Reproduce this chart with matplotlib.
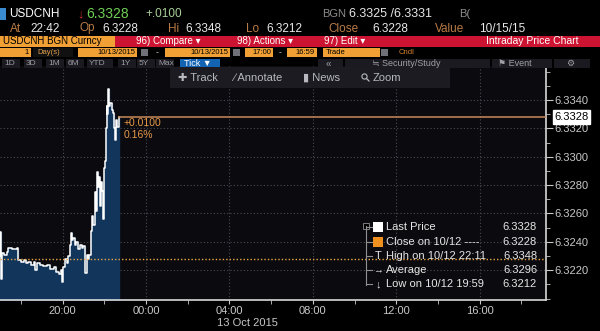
import pandas as pd
import numpy as np
import matplotlib
matplotlib.use('Agg')
import matplotlib.pyplot as plt
import matplotlib.dates as mdates
from matplotlib.patches import Rectangle, Circle

plt.rcParams['font.family'] = ['Liberation Sans', 'DejaVu Sans']

# datos intradía USDCNH 12/10/2015
horas = ['17:00', '17:01', '17:02', '17:05', '17:12', '17:20', '17:24', '17:35', '17:48', '17:52',
         '18:00', '18:08', '18:15', '18:22', '18:30', '18:38', '18:42', '18:46', '18:55', '19:05',
         '19:15', '19:25', '19:35', '19:42', '19:50', '19:55', '19:59', '20:02', '20:06', '20:12',
         '20:16', '20:20', '20:23', '20:27', '20:31', '20:35', '20:40', '20:45', '20:50', '20:55',
         '21:00', '21:04', '21:06', '21:09', '21:13', '21:17', '21:21', '21:25', '21:28', '21:32',
         '21:35', '21:38', '21:41', '21:44', '21:47', '21:50', '21:53', '21:56', '21:58', '22:01',
         '22:04', '22:07', '22:09', '22:11', '22:13', '22:17', '22:21', '22:25', '22:28', '22:31',
         '22:34', '22:38', '22:42']
precios = [6.3230, 6.3247, 6.3214, 6.3232, 6.3231, 6.3233, 6.3236, 6.3235, 6.3236, 6.3227,
           6.3226, 6.3227, 6.3225, 6.3226, 6.3224, 6.3226, 6.3220, 6.3225, 6.3224, 6.3223,
           6.3224, 6.3221, 6.3222, 6.3219, 6.3217, 6.3220, 6.3212, 6.3222, 6.3228, 6.3225,
           6.3230, 6.3238, 6.3246, 6.3241, 6.3243, 6.3238, 6.3240, 6.3235, 6.3238, 6.3236,
           6.3237, 6.3226, 6.3218, 6.3231, 6.3228, 6.3231, 6.3248, 6.3258, 6.3252, 6.3275,
           6.3262, 6.3289, 6.3279, 6.3286, 6.3265, 6.3282, 6.3276, 6.3256, 6.3292, 6.3297,
           6.3320, 6.3336, 6.3330, 6.3348, 6.3336, 6.3338, 6.3333, 6.3331, 6.3320, 6.3312,
           6.3326, 6.3321, 6.3328]

ultimo = 6.3328
cierre = 6.3228
maximo = 6.3348
minimo = 6.3212
promedio = 6.3296
y_ticks = [6.3220, 6.3240, 6.3260, 6.3280, 6.3300, 6.3320, 6.3340]

tiempos = pd.to_datetime(['2015-10-12 ' + h for h in horas])

fondo = '#0b0a0f'
naranja = '#f0a035'
gris = '#c8c8c8'

fig = plt.figure(figsize=(6, 3.31), dpi=100)
fig.patch.set_facecolor('black')

# ---- area del grafico
ax = fig.add_axes([0, 31/331, 546/600, 234/331])
ax.set_facecolor(fondo)
y0 = 6.31990
ax.fill_between(tiempos, precios, y0, step='post', color='#12355c', zorder=2)
ax.plot(tiempos, precios, drawstyle='steps-post', color='white', lw=1.1, zorder=3)

x_ini = pd.Timestamp('2015-10-12 17:00')
x_fin = pd.Timestamp('2015-10-13 19:11')
ax.set_xlim(x_ini, x_fin)
ax.set_ylim(y0, 6.3364)

# linea de cierre punteada y ultimo precio
ax.axhline(cierre, color='#eaa845', lw=1.0, ls=(0, (1, 1.5)), zorder=4)
ax.plot([tiempos[-1], x_fin], [ultimo, ultimo], color='#c98a5a', lw=1.1, zorder=4)
ax.text(tiempos[-1] + pd.Timedelta(minutes=14), ultimo - 0.00007, '+0.0100\n0.16%',
        color='#e8994a', fontsize=7.5, va='top', ha='left', linespacing=1.3, zorder=5)

ax.xaxis.set_major_locator(mdates.HourLocator(byhour=[0, 4, 8, 12, 16, 20]))
ax.xaxis.set_minor_locator(mdates.HourLocator(byhour=range(0, 24, 2)))
ax.xaxis.set_major_formatter(mdates.DateFormatter('%H:%M'))
ax.set_yticks(y_ticks)
ax.set_yticks(np.arange(6.3200, 6.3365, 0.001), minor=True)
ax.yaxis.set_major_formatter(plt.FormatStrFormatter('%.4f'))
ax.yaxis.tick_right()
ax.tick_params(axis='both', which='both', colors=gris, labelsize=8, direction='out')
ax.tick_params(axis='y', which='major', length=5, pad=1)
ax.tick_params(axis='y', which='minor', length=3)
ax.tick_params(axis='x', which='major', length=3, pad=1)
ax.tick_params(axis='x', which='minor', length=3)
ax.grid(True, which='major', color='#4a4a52', lw=0.8, ls=(0, (1, 2)))
for s in ['top', 'left']:
    ax.spines[s].set_visible(False)
for s in ['bottom', 'right']:
    ax.spines[s].set_color('#d8d8d8')
    ax.spines[s].set_linewidth(1.2)

# etiqueta del ultimo precio
ax.annotate('%.4f' % ultimo, xy=(1.0, ultimo), xycoords=('axes fraction', 'data'),
            xytext=(6, 0), textcoords='offset points', va='center', ha='left',
            fontsize=8, color='black',
            bbox=dict(boxstyle='square,pad=0.15', fc='white', ec='white'), zorder=10)

# ---- capa superior en pixeles (cabecera, barras, leyenda)
ov = fig.add_axes([0, 0, 1, 1], zorder=20)
ov.set_xlim(0, 600)
ov.set_ylim(331, 0)
ov.axis('off')
ov.patch.set_alpha(0)


def caja(x, y, w, h, color, ec='none'):
    ov.add_patch(Rectangle((x, y), w, h, fc=color, ec=ec, lw=0.6))


def txt(x, y, s, color='white', size=7, **kw):
    ov.text(x, y, s, color=color, fontsize=size, va='center', **kw)


txt(217, 323, '13 Oct 2015', gris, 8)

# fila 1
caja(0, 8, 6, 12, '#3a8ad0')
txt(9, 14, 'USDCNH', 'white', 8.5)
txt(77, 14, '\u2193', '#c83030', 9)
txt(86, 14, '6.3328', '#6fcf55', 10)
txt(145, 14, '+.0100', '#a8cf98', 8.5)
txt(322, 14, 'BGN', '#8c8c8c', 8)
txt(349, 14, '6.3325 /6.3331', '#e6e6e6', 9)
txt(459, 14, 'B(', '#8c8c8c', 8)

# fila 2
lab = '#b97c45'
val = '#e8e8e8'
for x, s, c in [(10, 'At', lab), (30, '22:42', val), (80, 'Op', lab), (102, '6.3228', val),
                (168, 'Hi', lab), (185, '6.3348', val), (246, 'Lo', lab), (266, '6.3212', val),
                (328, 'Close', lab), (372, '6.3228', val), (435, 'Value', lab), (479, '10/15/15', val)]:
    txt(x, 28.5, s, c, 8.5)

# fila 3
caja(0, 36, 115, 11, naranja)
caja(115, 36, 485, 11, '#cc1432')
txt(3, 41.5, 'USDCNH BGN Curncy', 'black', 7)
txt(136, 41.5, '96) Compare \u25be', 'white', 7)
txt(237, 41.5, '98) Actions \u25be', 'white', 7)
txt(324, 41.5, '97) Edit \u25be', 'white', 7)
txt(578, 41.5, 'Intraday Price Chart', 'white', 7.5, ha='right')

# fila 4
caja(0, 48, 31, 9, naranja)
txt(29, 52.5, '1', 'black', 5.5, ha='right')
caja(33, 48, 40, 9, '#111111')
txt(37, 52.5, 'Day(s)', '#e0a050', 5.5)
for x0, w, s in [(78, 59, '10/13/2015'), (165, 65, '10/13/2015'), (245, 28, '17:00'),
                 (287, 30, '16:59')]:
    caja(x0, 48, w, 9, naranja)
    txt(x0 + w - 2, 52.5, s, 'black', 5.5, ha='right')
caja(323, 48, 57, 9, naranja)
txt(326, 52.5, 'Trade', 'black', 5.5)
for x0 in [141, 233, 381]:
    caja(x0, 49, 7, 7, '#707078')
txt(156, 52.5, '-', 'white', 6)
txt(279, 52.5, '-', 'white', 6)
txt(399, 52.5, 'Cndl', '#d08030', 5.5)

# fila 5
botones = ['1D', '3D', '1M', '6M', 'YTD', '1Y', '5Y', 'Max']
bx = [2, 24, 46, 66, 87, 118, 137, 156]
for x0, b in zip(bx, botones):
    caja(x0, 59, 18 if b != 'YTD' else 26, 9, '#1a1a20')
    txt(x0 + 2, 63.5, b, '#9a9aa0', 6)
caja(180, 59, 40, 9, '#1464b4')
txt(184, 63.5, 'Tick \u25bc', 'white', 6.5)
caja(318, 59, 25, 9, '#1a1a20')
txt(326, 63.5, '\u00ab', '#a0a0a8', 7)
caja(345, 59, 145, 9, '#1a1a20')
txt(372, 63.5, '\u2252 Security/Study', '#a0a0a8', 6.5)
caja(492, 59, 60, 9, '#1a1a20')
txt(498, 63.5, '\u2691 Event', '#a0a0a8', 6.5)
caja(554, 59, 36, 9, '#1a1a20')
txt(566, 63.5, '\u2699', '#a0a0a8', 6.5)

# barra de herramientas
caja(170, 67, 280, 21, '#1b1b21')
txt(178, 78, '\u271a Track', '#b8b8c0', 8)
txt(233, 78, '\u2215 Annotate', '#b8b8c0', 8)
txt(303, 78, '\u25ae News', '#b8b8c0', 8)
# lupa dibujada como forma
ov.add_patch(Circle((364.5, 76.5), 2.6, fc='none', ec='#b8b8c0', lw=0.8))
ov.plot([366.5, 369], [78.5, 81], color='#b8b8c0', lw=0.9)
txt(373, 78, 'Zoom', '#b8b8c0', 8)

# leyenda (sin fondo: la linea de cierre se ve a traves)
ov.plot([366, 366], [226, 285], color='#909090', lw=0.8)
caja(363, 223, 6, 6, 'black', ec='#909090')
filas = [('Last Price', ultimo), ('Close on 10/12 ----', cierre), ('High on 10/12 22:11', maximo),
         ('Average', promedio), ('Low on 10/12 19:59', minimo)]
ys = [227, 242, 256, 270, 284]
for (nombre, v), yy in zip(filas, ys):
    txt(386, yy, nombre, '#e6e6e6', 8)
    txt(537, yy, '%.4f' % v, '#e6e6e6', 8, ha='right')
    ov.plot([366, 372], [yy, yy], color='#909090', lw=0.8)
caja(373, 222, 10, 10, 'white')
caja(373, 237, 10, 10, '#f0901e')
txt(375, 256, 'T', '#e6e6e6', 8)
txt(373, 270, '\u2192', '#e6e6e6', 7)
txt(376, 284, '\u2193', '#e6e6e6', 8)

plt.savefig('out.png', dpi=100, facecolor='black')
